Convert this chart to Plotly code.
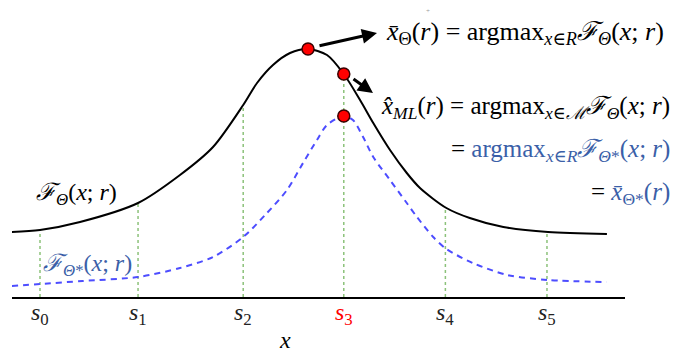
import numpy as np
import plotly.graph_objects as go

# curve samples (x in units of the s-spacing, y arbitrary)
x_black = [-0.276, 0.0, 0.394, 0.965, 1.378, 1.703, 2.0, 2.136, 2.293, 2.461, 2.638, 2.825, 2.99,
           3.15, 3.28, 3.445, 3.61, 3.74, 4.0, 4.23, 4.56, 5.0, 5.58]
y_black = [0.65, 0.67, 0.75, 0.94, 1.22, 1.50, 1.92, 2.14, 2.32, 2.44, 2.48, 2.42, 2.23,
           1.97, 1.74, 1.47, 1.24, 1.09, 0.89, 0.79, 0.70, 0.65, 0.63]

x_blue = [-0.276, 0.0, 0.42, 0.965, 1.378, 1.703, 2.0, 2.234, 2.431, 2.589, 2.726, 2.825, 2.99,
          3.08, 3.18, 3.28, 3.445, 3.61, 3.71, 3.87, 4.0, 4.26, 4.60, 5.0, 5.58]
y_blue = [0.11, 0.13, 0.16, 0.20, 0.29, 0.40, 0.60, 0.84, 1.07, 1.34, 1.57, 1.72, 1.81,
          1.77, 1.60, 1.40, 1.17, 0.94, 0.80, 0.60, 0.48, 0.34, 0.22, 0.17, 0.15]

s_pos = [0.0, 0.965, 2.0, 2.99, 3.99, 4.99]
s_labels = ["<i>s</i><sub>0</sub>", "<i>s</i><sub>1</sub>", "<i>s</i><sub>2</sub>",
            "<i>s</i><sub>3</sub>", "<i>s</i><sub>4</sub>", "<i>s</i><sub>5</sub>"]
ml_index = 3

BLUE_TXT = "#3b5fa8"
SERIF = "Liberation Serif, DejaVu Serif, serif"

# page body has an 8px margin, so the figure is drawn 8px smaller and laid out in picture pixels
X0, X1, Y0, Y1 = 12, 625, 8, 297          # plot area in picture pixels
px = lambda p: (p - 40) / 101.6            # picture x -> data x
py = lambda p: (297 - p) / 100             # picture y -> data y
qx = lambda p: (p - X0) / (X1 - X0)        # picture x -> paper
qy = lambda p: (Y1 - p) / (Y1 - Y0)        # picture y -> paper

fig = go.Figure()

# green dotted verticals from axis up to the black curve
for s in s_pos:
    top = float(np.interp(s, x_black, y_black))
    fig.add_trace(go.Scatter(x=[s, s], y=[0, top], mode="lines",
                             line=dict(color="#8cc27a", width=1.5, dash="dot"),
                             hoverinfo="skip", showlegend=False))

fig.add_trace(go.Scatter(x=x_black, y=y_black, mode="lines",
                         line=dict(color="black", width=2, shape="spline", smoothing=0.8),
                         showlegend=False))
fig.add_trace(go.Scatter(x=x_blue, y=y_blue, mode="lines",
                         line=dict(color="#4d4dff", width=2, dash="6px,5px", shape="spline", smoothing=0.8),
                         showlegend=False))

i_peak = int(np.argmax(y_black))
s_ml = s_pos[ml_index]
dots_x = [x_black[i_peak], s_ml, s_ml]
dots_y = [y_black[i_peak], float(np.interp(s_ml, x_black, y_black)), float(np.interp(s_ml, x_blue, y_blue))]
fig.add_trace(go.Scatter(x=dots_x, y=dots_y, mode="markers",
                         marker=dict(color="#ff0000", size=12, line=dict(color="#3a0000", width=1.5)),
                         showlegend=False))

# arrows
fig.add_annotation(x=px(377), y=py(33), ax=px(318), ay=py(46), xref="x", yref="y", axref="x", ayref="y",
                   showarrow=True, arrowhead=2, arrowsize=1, arrowwidth=3, arrowcolor="black", text="")
fig.add_annotation(x=px(373), y=py(93), ax=px(352), ay=py(78), xref="x", yref="y", axref="x", ayref="y",
                   showarrow=True, arrowhead=2, arrowsize=1, arrowwidth=3, arrowcolor="black", text="")

# s_i labels under the axis, placed at the tick positions
for i, (s, lab) in enumerate(zip(s_pos, s_labels)):
    fig.add_annotation(x=s, y=qy(314), xref="x", yref="paper", text=lab, showarrow=False,
                       xanchor="center", yanchor="middle",
                       font=dict(family=SERIF, size=24, color="#ff0000" if i == ml_index else "#222222"))

def label(txt, x, y, color="black", size=25, xanchor="left"):
    fig.add_annotation(x=qx(x), y=qy(y), xref="paper", yref="paper", text=txt, showarrow=False,
                       xanchor=xanchor, yanchor="middle", font=dict(family=SERIF, size=size, color=color))

F = "<i>\u2131</i>"
label("<i>x\u0304</i><sub>\u0398</sub>(<i>r</i>) = argmax<sub><i>x</i>\u2208<i>R</i></sub>"
      + F + "<sub><i>\u0398</i></sub>(<i>x</i>; <i>r</i>)", 384, 33, size=26)
label("<i>x\u0302</i><sub><i>ML</i></sub>(<i>r</i>) = argmax<sub><i>x</i>\u2208<i>\u2133</i></sub>"
      + F + "<sub><i>\u0398</i></sub>(<i>x</i>; <i>r</i>)", 672, 107, xanchor="right")
label("= <span style='color:%s'>argmax<sub><i>x</i>\u2208<i>R</i></sub>" % BLUE_TXT
      + F + "<sub><i>\u0398</i>*</sub>(<i>x</i>; <i>r</i>)</span>", 672, 150, xanchor="right")
label("= <span style='color:%s'><i>x\u0304</i><sub>\u0398*</sub>(<i>r</i>)</span>" % BLUE_TXT,
      672, 193, xanchor="right")
label(F + "<sub><i>\u0398</i></sub>(<i>x</i>; <i>r</i>)", 34, 194, size=24)
label(F + "<sub><i>\u0398</i>*</sub>(<i>x</i>; <i>r</i>)", 41, 265, color=BLUE_TXT, size=24)
label("<i>x</i>", 285, 340, size=24, xanchor="center")
label("+", 428, 11, color="#999999", size=7, xanchor="center")

fig.update_layout(
    width=687 - 8, height=354 - 8,
    margin=dict(l=X0 - 8, r=687 - X1, t=Y0 - 8, b=354 - Y1),
    paper_bgcolor="white", plot_bgcolor="white",
    xaxis=dict(range=[px(X0), px(X1)], showgrid=False, zeroline=False, showline=True,
               linecolor="black", linewidth=2, tickmode="array", tickvals=s_pos, showticklabels=False,
               ticks=""),
    yaxis=dict(range=[0, py(Y0)], visible=False),
    showlegend=False,
)

fig.write_html("out.html")
